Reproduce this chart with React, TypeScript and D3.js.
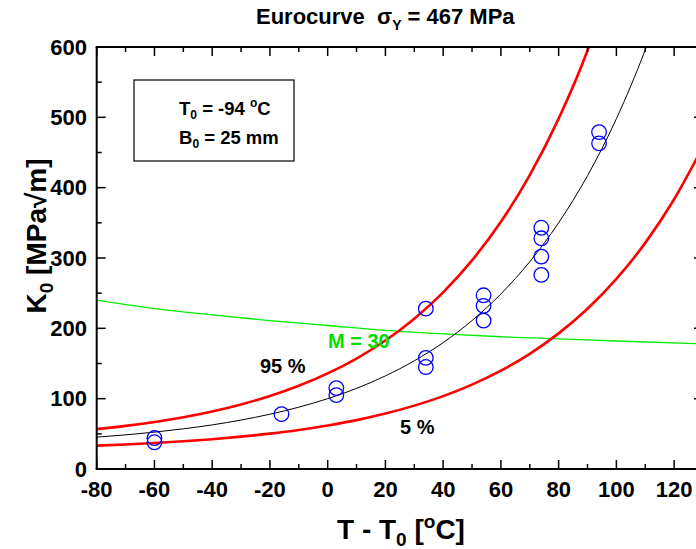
import React from "react";
import * as d3 from "d3";

// ---- data ----
const curveT = [-80, -70, -60, -50, -40, -30, -20, -10, 0, 10, 20, 30, 40, 50, 60, 70, 80, 90, 100, 110, 120, 130];
const medianK = [45.3, 48.5, 52.4, 57.1, 62.7, 69.6, 77.9, 87.9, 100, 114.6, 132.4, 153.8, 179.7, 211, 248.9, 294.7, 350.1, 417, 498, 596, 714, 850];
const upper95K = [56.7, 61.3, 66.9, 73.7, 81.9, 91.8, 103.8, 118.3, 135.9, 157.1, 182.7, 213.8, 251.2, 296.6, 351.5, 417.8, 498.1, 595, 720, 870, 1050, 1270];
const lower5K = [33.2, 34.9, 37, 39.4, 42.4, 46, 50.3, 55.5, 61.9, 69.5, 78.8, 90.1, 103.6, 120, 139.8, 163.8, 192.8, 227.8, 270.2, 321.5, 383.5, 458.5];
const limitT = [-80, -60, -40, -20, 0, 20, 40, 60, 80, 100, 130];
const limitK = [240, 228, 219, 211, 204, 197, 192, 188, 185, 182, 178];
const pointT = [-60, -60, -16, 3, 3, 34, 34, 34, 54, 54, 54, 74, 74, 74, 74, 94, 94];
const pointK = [38, 44, 78, 105, 115, 228, 158, 145, 247, 232, 211, 343, 328, 302, 276, 479, 463];
const xTicks = [-80, -60, -40, -20, 0, 20, 40, 60, 80, 100, 120];
const yTicks = [0, 100, 200, 300, 400, 500, 600];

const W = 696;
const H = 549;
const left = 96.7;
const right = 703;
const top = 47;
const bottom = 469;
const FONT = "'Liberation Sans', Arial, Helvetica, sans-serif";

export default function App() {
  const x = d3.scaleLinear().domain([-80, 130]).range([left, right]);
  const y = d3.scaleLinear().domain([0, 600]).range([bottom, top]);

  const line = d3
    .line<[number, number]>()
    .x((d) => x(d[0]))
    .y((d) => y(d[1]))
    .curve(d3.curveMonotoneX);

  const zip = (a: number[], b: number[]) => a.map((v, i) => [v, b[i]] as [number, number]);

  const xMinor = d3.range(-80, 131, 10);
  const yMinor = d3.range(0, 601, 50);

  const major = 9;
  const minor = 5;

  return (
    <svg
      width={W}
      height={H}
      style={{ position: "absolute", left: 0, top: 0, background: "#fff" }}
      fontFamily={FONT}
      fontWeight="bold"
    >
      <defs>
        <clipPath id="plot">
          <rect x={left} y={top} width={right - left} height={bottom - top} />
        </clipPath>
      </defs>
      <rect x={0} y={0} width={W} height={H} fill="#fff" />

      {/* curves */}
      <g clipPath="url(#plot)" fill="none">
        <path d={line(zip(limitT, limitK)) || ""} stroke="#00ee00" strokeWidth={1.3} />
        <path d={line(zip(curveT, upper95K)) || ""} stroke="#ff0000" strokeWidth={2.6} />
        <path d={line(zip(curveT, lower5K)) || ""} stroke="#ff0000" strokeWidth={2.6} />
        <path d={line(zip(curveT, medianK)) || ""} stroke="#000" strokeWidth={1} />
      </g>

      {/* points */}
      <g fill="none" stroke="#0000ff" strokeWidth={1.3}>
        {pointT.map((t, i) => (
          <circle key={i} cx={x(t)} cy={y(pointK[i])} r={7.3} />
        ))}
      </g>

      {/* axes frame */}
      <g stroke="#000" strokeWidth={2} fill="none">
        <line x1={left} y1={top} x2={left} y2={bottom} />
        <line x1={left - 1} y1={bottom} x2={right} y2={bottom} />
        <line x1={left - 1} y1={top} x2={right} y2={top} />
        <line x1={right} y1={top} x2={right} y2={bottom} />
      </g>
      <g stroke="#000" strokeWidth={1.5}>
        {xMinor.map((t) => {
          const len = t % 20 === 0 ? major : minor;
          return (
            <g key={"xt" + t}>
              <line x1={x(t)} x2={x(t)} y1={bottom} y2={bottom - len} />
              <line x1={x(t)} x2={x(t)} y1={top} y2={top + len} />
            </g>
          );
        })}
        {yMinor.map((v) => {
          const len = v % 100 === 0 ? major : minor;
          return (
            <g key={"yt" + v}>
              <line x1={left} x2={left + len} y1={y(v)} y2={y(v)} />
              <line x1={right} x2={right - len} y1={y(v)} y2={y(v)} />
            </g>
          );
        })}
      </g>

      {/* tick labels */}
      <g fontSize={22} fill="#000">
        {xTicks.map((t) => (
          <text key={"xl" + t} x={x(t)} y={497} textAnchor="middle">
            {t}
          </text>
        ))}
        {yTicks.map((v) => (
          <text key={"yl" + v} x={87} y={y(v) + 7.5} textAnchor="end">
            {v}
          </text>
        ))}
      </g>

      {/* title */}
      <text x={256} y={24} fontSize={22} fill="#000">
        Eurocurve{"\u00a0\u00a0"}σ
        <tspan fontSize={14} dy={6}>Y</tspan>
        <tspan dy={-6}> = 467 MPa</tspan>
      </text>

      {/* info box */}
      <rect x={134} y={80} width={160} height={81} fill="none" stroke="#000" strokeWidth={1.2} />
      <text x={179} y={115} fontSize={18.5} fill="#000">
        T<tspan fontSize={12} dy={4}>0</tspan>
        <tspan dy={-4}> = -94 </tspan>
        <tspan fontSize={12} dy={-8}>o</tspan>
        <tspan dy={8}>C</tspan>
      </text>
      <text x={179} y={144} fontSize={18.5} fill="#000">
        B<tspan fontSize={12} dy={4}>0</tspan>
        <tspan dy={-4}> = 25 mm</tspan>
      </text>

      {/* curve labels */}
      <text x={260} y={373} fontSize={20} fill="#000">95 %</text>
      <text x={400} y={434} fontSize={20} fill="#000">5 %</text>
      <text x={328} y={348} fontSize={20} fill="#00dd00">M = 30</text>

      {/* axis titles */}
      <text x={337} y={539} fontSize={28} fill="#000">
        T - T<tspan fontSize={19} dy={7}>0</tspan>
        <tspan dy={-7}> [</tspan>
        <tspan fontSize={19} dy={-11}>o</tspan>
        <tspan dy={11}>C]</tspan>
      </text>
      <text transform="translate(46,236) rotate(-90)" textAnchor="middle" fontSize={28} fill="#000">
        K<tspan fontSize={19} dy={7}>0</tspan>
        <tspan dy={-7}> [MPa√m]</tspan>
      </text>
    </svg>
  );
}
